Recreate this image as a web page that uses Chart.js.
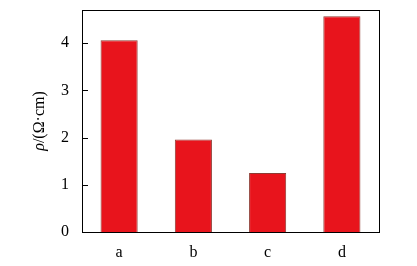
<!DOCTYPE html>
<html>
<head>
<meta charset="utf-8">
<script src="https://cdn.jsdelivr.net/npm/chart.js@4"></script>
<style>
  html, body { margin: 0; padding: 0; background: #fff; }
  #wrap { width: 417px; height: 266px; }
</style>
</head>
<body>
<div id="wrap"><canvas id="rho" width="417" height="266"></canvas></div>
<script>
const samples = ["a", "b", "c", "d"];
const rhoValues = [4.06, 1.96, 1.25, 4.57];
const yTicks = [0, 1, 2, 3, 4];

// frame around plot + inward ticks on the left axis + y title
const framePlugin = {
  id: "frame",
  afterDraw(chart) {
    const { ctx, chartArea: a, scales } = chart;
    ctx.save();
    ctx.strokeStyle = "#000";
    ctx.lineWidth = 1;
    ctx.strokeRect(a.left + 0.5, a.top + 0.5, a.right - a.left, a.bottom - a.top);
    ctx.beginPath();
    yTicks.forEach((v) => {
      const y = Math.round(scales.y.getPixelForValue(v)) + 0.5;
      ctx.moveTo(a.left, y);
      ctx.lineTo(a.left + 6, y);
    });
    ctx.stroke();

    // y axis title, rho in italic
    ctx.translate(40, (a.top + a.bottom) / 2);
    ctx.rotate(-Math.PI / 2);
    ctx.fillStyle = "#000";
    ctx.textBaseline = "middle";
    const f1 = "italic 16px 'Liberation Serif'";
    const f2 = "16px 'Liberation Serif'";
    ctx.font = f1;
    const w1 = ctx.measureText("ρ").width;
    ctx.font = f2;
    const w2 = ctx.measureText("/(Ω·cm)").width;
    const x0 = -(w1 + w2) / 2;
    ctx.font = f1;
    ctx.fillText("ρ", x0, 0);
    ctx.font = f2;
    ctx.fillText("/(Ω·cm)", x0 + w1, 0);
    ctx.restore();
  },
};

const ctx = document.getElementById("rho");
new Chart(ctx, {
  type: "bar",
  data: {
    labels: samples,
    datasets: [
      {
        data: rhoValues,
        backgroundColor: "#e8141c",
        borderColor: "#8e3b33",
        borderWidth: 1,
        borderSkipped: "bottom",
        categoryPercentage: 1.0,
        barPercentage: 0.5,
      },
    ],
  },
  options: {
    responsive: false,
    animation: false,
    layout: { padding: { left: 0, right: 38, top: 10, bottom: 0 } },
    plugins: { legend: { display: false }, tooltip: { enabled: false } },
    scales: {
      x: {
        grid: { display: false, drawTicks: false },
        border: { display: false },
        ticks: {
          padding: 11,
          color: "#000",
          font: { family: "'Liberation Serif'", size: 16 },
        },
        afterFit: (s) => {
          s.height = 34;
          s.paddingLeft = 0;
          s.paddingRight = 0;
        },
      },
      y: {
        min: 0,
        max: 4.7,
        afterBuildTicks: (s) => { s.ticks = yTicks.map((v) => ({ value: v })); },
        grid: { display: false, drawTicks: false },
        border: { display: false },
        ticks: {
          padding: 13,
          color: "#000",
          font: { family: "'Liberation Serif'", size: 16 },
        },
        afterFit: (s) => {
          s.width = 82;
          s.paddingTop = 0;
          s.paddingBottom = 0;
        },
      },
    },
  },
  plugins: [framePlugin],
});
</script>
</body>
</html>
